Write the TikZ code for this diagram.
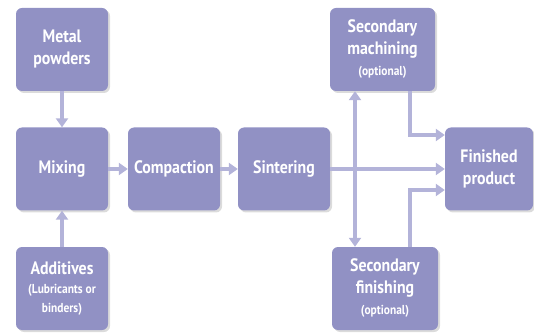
\documentclass[tikz,border=0pt]{standalone}
\usepackage{fontspec}
\newfontfamily\boxfont{PT Sans}[FakeStretch=0.88]
\usetikzlibrary{positioning,arrows.meta,calc,shadows}
\definecolor{stepF}{HTML}{9191C4}
\definecolor{flowC}{HTML}{B3B3D9}
\newcommand\notesize{\fontsize{13}{16}\selectfont}
\tikzset{
  proc/.style={fill=stepF, rounded corners=6pt, minimum width=92pt, minimum height=83pt,
               inner sep=2pt, align=center, text=white,
               font=\boxfont\bfseries\fontsize{18}{22}\selectfont,
               drop shadow={shadow xshift=2pt, shadow yshift=-2pt, opacity=0.35, fill=black!40}},
  flow/.style={-{Triangle[width=12pt,length=9pt]}, line width=4.5pt, draw=flowC},
}
\begin{document}
\begin{tikzpicture}[x=1pt,y=-1pt]
  \useasboundingbox (0,0) rectangle (534,336);
  % ------------------------------------------------ inputs and main line
  \node[proc] (metal) at (62,49.5) {Metal\\powders};
  \node[proc] (mix) at (62,169) {Mixing};
  \node[proc] (add) at (62,288.5) {Additives\\[-3pt]{\notesize (Lubricants or}\\[-3pt]{\notesize binders)}};
  \node[proc] (comp) at (174,169) {Compaction};
  \node[proc] (sint) at (284,169) {Sintering};

  % ------------------------------------------------ optional steps and product
  \node[proc, minimum width=105pt] (mach) at (382.5,49.5) {Secondary\\machining\\[-1pt]{\notesize (optional)}};
  \node[proc, minimum width=106pt] (fin) at (385,288.5) {Secondary\\finishing\\[-1pt]{\notesize (optional)}};
  \node[proc, minimum width=88pt] (prod) at (489,169) {Finished\\product};

  \draw[flow] (metal) -- (mix);
  \draw[flow] (add) -- (mix);
  \draw[flow] (mix) -- (comp);
  \draw[flow] (comp) -- (sint);
  \draw[flow] (sint) -- (prod);

  \coordinate (split) at (355,169);
  \draw[flow] (split) -- (split |- mach.south);
  \draw[flow] (split) -- (split |- fin.north);
  \draw[flow] ([xshift=27.5pt]mach.south) |- ($(prod.west)+(0,-34)$);
  \draw[flow] ([xshift=25pt]fin.north) |- ($(prod.west)+(0,21)$);
\end{tikzpicture}
\end{document}
